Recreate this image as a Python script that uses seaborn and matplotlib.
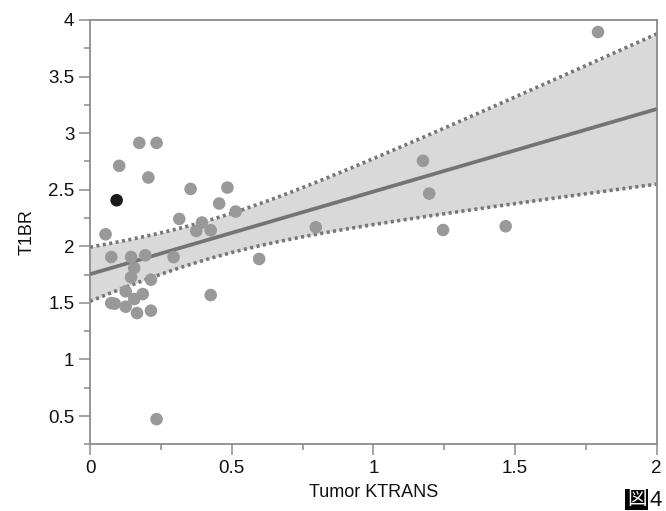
import numpy as np
import pandas as pd
import matplotlib
matplotlib.use("Agg")
import matplotlib.pyplot as plt
from matplotlib.ticker import MultipleLocator
import seaborn as sns

# ---- data ----
ktrans = [0.174, 0.235, 0.103, 0.206, 0.355, 0.485, 0.456, 0.514, 0.315, 0.395,
          0.375, 0.426, 0.055, 0.075, 0.145, 0.195, 0.295, 0.597, 0.156, 0.145,
          0.215, 0.126, 0.186, 0.426, 0.156, 0.075, 0.087, 0.126, 0.215, 0.166,
          0.235, 1.175, 1.197, 0.797, 1.246, 1.467, 1.793]
t1br = [2.914, 2.914, 2.711, 2.608, 2.507, 2.519, 2.378, 2.307, 2.242, 2.210,
        2.135, 2.142, 2.106, 1.905, 1.905, 1.920, 1.905, 1.888, 1.808, 1.726,
        1.705, 1.602, 1.578, 1.569, 1.534, 1.498, 1.493, 1.466, 1.431, 1.410,
        0.472, 2.755, 2.466, 2.168, 2.144, 2.177, 3.894]
highlight_x = [0.094]
highlight_y = [2.407]

x_ticks = [0, 0.5, 1, 1.5, 2]
x_tick_labels = ["0", "0.5", "1", "1.5", "2"]
y_ticks = [0.5, 1, 1.5, 2, 2.5, 3, 3.5, 4]
y_tick_labels = ["0.5", "1", "1.5", "2", "2.5", "3", "3.5", "4"]

sns.set_theme(style="white")
plt.rcParams["font.family"] = ["Liberation Sans", "Noto Sans CJK JP", "DejaVu Sans"]

df = pd.DataFrame({"Tumor KTRANS": ktrans, "T1BR": t1br})
hl = pd.DataFrame({"Tumor KTRANS": highlight_x, "T1BR": highlight_y})

fig = plt.figure(figsize=(6.66, 5.11), dpi=100)
ax = fig.add_axes([90 / 666, 1 - 444.3 / 511, (656.7 - 90) / 666, (444.3 - 20) / 511])

# OLS fit with 95% confidence band of the mean
x = np.asarray(ktrans)
y = np.asarray(t1br)
n = len(x)
slope, intercept = np.polyfit(x, y, 1)
resid = y - (intercept + slope * x)
s = np.sqrt(np.sum(resid ** 2) / (n - 2))
tval = 2.03
xx = np.linspace(0, 2, 200)
yy = intercept + slope * xx
se = s * np.sqrt(1 / n + (xx - x.mean()) ** 2 / np.sum((x - x.mean()) ** 2))
lo, hi = yy - tval * se, yy + tval * se

ax.fill_between(xx, lo, hi, color="#d9d9da", lw=0, zorder=1)
ax.plot(xx, lo, color="#777777", lw=2.6, ls=(0, (0.85, 0.95)), zorder=2)
ax.plot(xx, hi, color="#777777", lw=2.6, ls=(0, (0.85, 0.95)), zorder=2)
ax.plot(xx, yy, color="#747474", lw=2.7, zorder=3, solid_capstyle="butt")

sns.scatterplot(data=df, x="Tumor KTRANS", y="T1BR", ax=ax, color="#999999",
                s=82, edgecolor="none", zorder=4)
sns.scatterplot(data=hl, x="Tumor KTRANS", y="T1BR", ax=ax, color="#1a1a1a",
                s=82, edgecolor="none", zorder=5)

ax.set_xlim(0, 2)
ax.set_ylim(0.25, 4)
ax.set_xticks(x_ticks)
ax.set_xticklabels(x_tick_labels)
ax.set_yticks(y_ticks)
ax.set_yticklabels(y_tick_labels)
ax.xaxis.set_minor_locator(MultipleLocator(0.25))
ax.yaxis.set_minor_locator(MultipleLocator(0.25))

spine_c = "#8c8c8c"
for sp in ax.spines.values():
    sp.set_color(spine_c)
    sp.set_linewidth(1.3)
ax.tick_params(which="major", axis="both", direction="out", length=7.7, width=1.1,
               color=spine_c, labelsize=13.5, labelcolor="#111111", pad=3.5,
               bottom=True, left=True, top=False, right=False)
ax.tick_params(which="minor", axis="both", direction="out", length=4.2, width=1.1,
               color=spine_c, bottom=True, left=True, top=False, right=False)

ax.set_xlabel("Tumor KTRANS", fontsize=13, color="#111111", labelpad=5)
ax.set_ylabel("T1BR", fontsize=13, color="#111111", labelpad=9)

fig.text(627 / 666, 1 - 491 / 511, "図", fontsize=14, color="white", ha="left", va="top",
         bbox=dict(boxstyle="square,pad=0.1", fc="black", ec="none"))
fig.text(649 / 666, 1 - 490 / 511, "4", fontsize=16, color="#111111", ha="left", va="top")

fig.savefig("out.png", dpi=100)
